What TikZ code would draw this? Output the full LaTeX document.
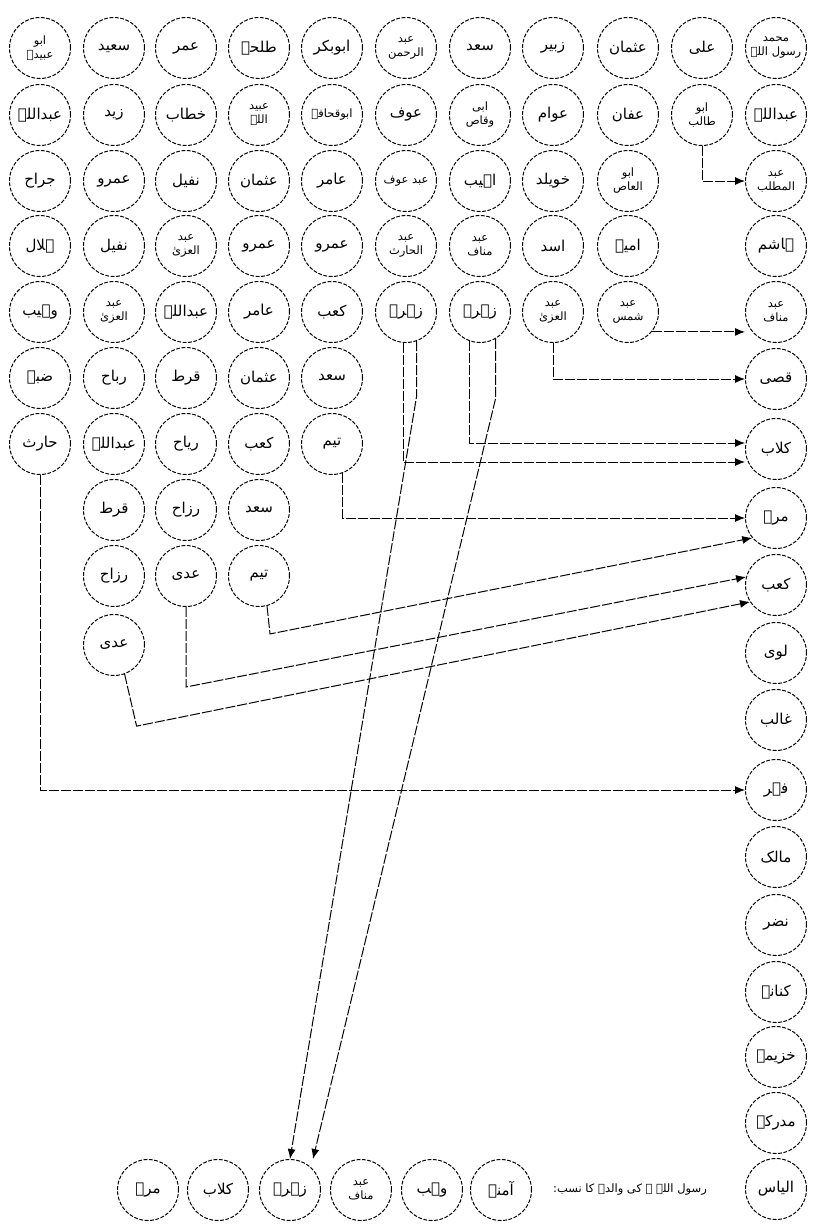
\documentclass[tikz,border=0pt]{standalone}
\usepackage{fontspec}
\newfontfamily\urdufont[Script=Arabic]{DejaVu Sans}
\TeXXeTstate=1
\usetikzlibrary{arrows.meta,calc}
\newcommand{\ur}[1]{{\urdufont\beginR #1\endR}}
\begin{document}
\begin{tikzpicture}[x=1pt,y=-1pt,
  nm/.style={circle,draw,line width=1pt,dash pattern=on 3.8pt off 1.6pt,minimum size=61pt,inner sep=0pt,align=center,font=\fontsize{15}{17}\selectfont},
  two/.style={font=\fontsize{11.5}{14}\selectfont},
  link/.style={line width=1pt,dash pattern=on 10pt off 2pt,-{Latex[length=10pt,width=8pt]}},
  caption/.style={font=\fontsize{11.5}{13}\selectfont,inner sep=0pt}]
\useasboundingbox (0,0) rectangle (818,1224);
% lineage column
\node[nm,two] (L0) at (776,48) {\ur{محمد}\\\ur{رسول اللہ}};
\node[nm] (L1) at (776,115) {\ur{عبداللہ}};
\node[nm,two] (L2) at (776,181) {\ur{عبد}\\\ur{المطلب}};
\node[nm] (L3) at (776,246) {\ur{ہاشم}};
\node[nm,two] (L4) at (776,312) {\ur{عبد}\\\ur{مناف}};
\node[nm] (L5) at (776,379) {\ur{قصی}};
\node[nm] (L6) at (776,449) {\ur{کلاب}};
\node[nm] (L7) at (776,518) {\ur{مرہ}};
\node[nm] (L8) at (776,585) {\ur{کعب}};
\node[nm] (L9) at (776,653) {\ur{لوی}};
\node[nm] (L10) at (776,720) {\ur{غالب}};
\node[nm] (L11) at (776,790) {\ur{فہر}};
\node[nm] (L12) at (776,857) {\ur{مالک}};
\node[nm] (L13) at (776,925) {\ur{نضر}};
\node[nm] (L14) at (776,992) {\ur{کنانہ}};
\node[nm] (L15) at (776,1057) {\ur{خزیمہ}};
\node[nm] (L16) at (776,1123) {\ur{مدرکہ}};
\node[nm] (L17) at (776,1189) {\ur{الیاس}};
% row 1
\node[nm] (r1c1) at (702,48) {\ur{علی}};
\node[nm] (r1c2) at (628,48) {\ur{عثمان}};
\node[nm] (r1c3) at (553,48) {\ur{زبیر}};
\node[nm] (r1c4) at (480,48) {\ur{سعد}};
\node[nm,two] (r1c5) at (406,48) {\ur{عبد}\\\ur{الرحمن}};
\node[nm] (r1c6) at (332,48) {\ur{ابوبکر}};
\node[nm] (r1c7) at (259,48) {\ur{طلحہ}};
\node[nm] (r1c8) at (186,48) {\ur{عمر}};
\node[nm] (r1c9) at (114,48) {\ur{سعید}};
\node[nm,two] (r1c10) at (40,48) {\ur{ابو}\\\ur{عبیدہ}};
% row 2
\node[nm,two] (r2c1) at (702,115) {\ur{ابو}\\\ur{طالب}};
\node[nm] (r2c2) at (628,115) {\ur{عفان}};
\node[nm] (r2c3) at (553,115) {\ur{عوام}};
\node[nm,two] (r2c4) at (480,115) {\ur{ابی}\\\ur{وقاص}};
\node[nm] (r2c5) at (406,115) {\ur{عوف}};
\node[nm,two] (r2c6) at (332,115) {\ur{ابوقحافہ}};
\node[nm,two] (r2c7) at (259,115) {\ur{عبید}\\\ur{اللہ}};
\node[nm] (r2c8) at (186,115) {\ur{خطاب}};
\node[nm] (r2c9) at (114,115) {\ur{زید}};
\node[nm] (r2c10) at (40,115) {\ur{عبداللہ}};
% row 3
\node[nm,two] (r3c2) at (628,181) {\ur{ابو}\\\ur{العاص}};
\node[nm] (r3c3) at (553,181) {\ur{خویلد}};
\node[nm] (r3c4) at (480,181) {\ur{اہیب}};
\node[nm,two] (r3c5) at (406,181) {\ur{عبد عوف}};
\node[nm] (r3c6) at (332,181) {\ur{عامر}};
\node[nm] (r3c7) at (259,181) {\ur{عثمان}};
\node[nm] (r3c8) at (186,181) {\ur{نفیل}};
\node[nm] (r3c9) at (114,181) {\ur{عمرو}};
\node[nm] (r3c10) at (40,181) {\ur{جراح}};
% row 4
\node[nm] (r4c2) at (628,246) {\ur{امیہ}};
\node[nm] (r4c3) at (553,246) {\ur{اسد}};
\node[nm,two] (r4c4) at (480,246) {\ur{عبد}\\\ur{مناف}};
\node[nm,two] (r4c5) at (406,246) {\ur{عبد}\\\ur{الحارث}};
\node[nm] (r4c6) at (332,246) {\ur{عمرو}};
\node[nm] (r4c7) at (259,246) {\ur{عمرو}};
\node[nm,two] (r4c8) at (186,246) {\ur{عبد}\\\ur{العزیٰ}};
\node[nm] (r4c9) at (114,246) {\ur{نفیل}};
\node[nm] (r4c10) at (40,246) {\ur{ہلال}};
% row 5
\node[nm,two] (r5c2) at (628,312) {\ur{عبد}\\\ur{شمس}};
\node[nm,two] (r5c3) at (553,312) {\ur{عبد}\\\ur{العزیٰ}};
\node[nm] (r5c4) at (480,312) {\ur{زہرہ}};
\node[nm] (r5c5) at (406,312) {\ur{زہرہ}};
\node[nm] (r5c6) at (332,312) {\ur{کعب}};
\node[nm] (r5c7) at (259,312) {\ur{عامر}};
\node[nm] (r5c8) at (186,312) {\ur{عبداللہ}};
\node[nm,two] (r5c9) at (114,312) {\ur{عبد}\\\ur{العزیٰ}};
\node[nm] (r5c10) at (40,312) {\ur{وہیب}};
% row 6
\node[nm] (r6c6) at (332,378) {\ur{سعد}};
\node[nm] (r6c7) at (259,378) {\ur{عثمان}};
\node[nm] (r6c8) at (186,378) {\ur{قرط}};
\node[nm] (r6c9) at (114,378) {\ur{رباح}};
\node[nm] (r6c10) at (40,378) {\ur{ضبہ}};
% row 7
\node[nm] (r7c6) at (332,444) {\ur{تیم}};
\node[nm] (r7c7) at (259,444) {\ur{کعب}};
\node[nm] (r7c8) at (186,444) {\ur{ریاح}};
\node[nm] (r7c9) at (114,444) {\ur{عبداللہ}};
\node[nm] (r7c10) at (40,444) {\ur{حارث}};
% row 8
\node[nm] (r8c7) at (259,510) {\ur{سعد}};
\node[nm] (r8c8) at (186,510) {\ur{رزاح}};
\node[nm] (r8c9) at (114,510) {\ur{قرط}};
% row 9
\node[nm] (r9c7) at (259,576) {\ur{تیم}};
\node[nm] (r9c8) at (186,576) {\ur{عدی}};
\node[nm] (r9c9) at (114,576) {\ur{رزاح}};
% row 10
\node[nm] (r10c9) at (114,645) {\ur{عدی}};
% bottom row
\node[nm] (b1) at (148,1190) {\ur{مرہ}};
\node[nm] (b2) at (218,1190) {\ur{کلاب}};
\node[nm] (b3) at (290,1190) {\ur{زہرہ}};
\node[nm,two] (b4) at (361,1190) {\ur{عبد}\\\ur{مناف}};
\node[nm] (b5) at (432,1190) {\ur{وہب}};
\node[nm] (b6) at (501,1190) {\ur{آمنہ}};
\node[caption] (cap) at (630,1190) {\ur{رسول اللہ ﷺ کی والدہ کا نسب:}};
% connectors
\draw[link] (r2c1.south) |- (L2.west);
\draw[link] (r5c2.-40) -- (r5c2.-40 -| L4.west);
\draw[link] (r5c3.south) |- (L5.west);
\draw[link] (r5c4.-110) |- ($(L6.west)+(0,-6)$);
\draw[link] (r5c5.-95) |- ($(L6.west)+(0,13)$);
\draw[link] (r7c6.-70) |- (L7.west);
\draw[link] (r9c7.-75) -- ++(3,28) -- (L7.220);
\draw[link] (r9c8.south) -- ++(0,80) -- (L8.165);
\draw[link] (r10c9.-70) -- ++(12,52) -- (L8.213);
\draw[link] (r7c10.south) |- (L11.west);
\draw[link] (r5c5.-70) -- ++(0,55) -- (b3.north);
\draw[link] (r5c4.-60) -- ++(0,60) -- ($(b3.north)+(23,0)$);
\end{tikzpicture}
\end{document}
